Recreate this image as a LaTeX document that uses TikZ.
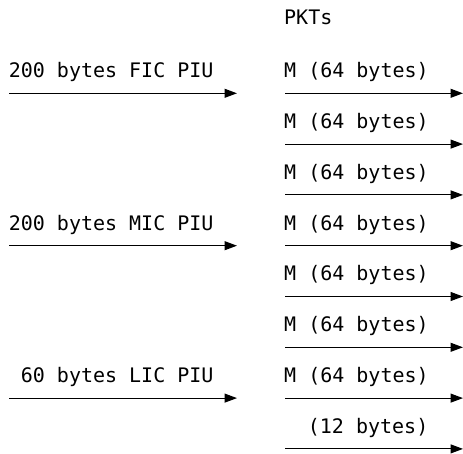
\documentclass[tikz,border=0pt]{standalone}
\usepackage{fontspec}
\setmonofont{DejaVu Sans Mono}
\usetikzlibrary{arrows.meta}
\begin{document}
\begin{tikzpicture}[x=1pt,y=1pt,
  lbl/.style={font=\ttfamily\fontsize{20}{24}\selectfont, inner sep=0pt},
  flow/.style={line width=1.1pt, -{Triangle[length=12.5pt,width=9pt]}}]
\useasboundingbox (0,0) rectangle (463,453);
% header over the packet column
\node[lbl, anchor=base west] (pkts) at (284,428) {PKTs};
% incoming PIUs (left column)
\foreach \r/\txt in {0/200 bytes FIC PIU, 3/200 bytes MIC PIU, 6/60 bytes LIC PIU} {
  \pgfmathsetmacro{\ya}{453-93.3-\r*50.8}
  \node[lbl, anchor=base east] (piu\r) at (213.7,\ya+15.5) {\txt};
  \coordinate (pa\r) at (9,\ya);
  \coordinate (pb\r) at (237,\ya);
  \draw[flow] (pa\r) -- (pb\r);
}
% outgoing packets (right column)
\foreach \r in {0,...,7} {
  \pgfmathsetmacro{\ya}{453-93.3-\r*50.8}
  \coordinate (ka\r) at (285,\ya);
  \coordinate (kb\r) at (463,\ya);
  \draw[flow] (ka\r) -- (kb\r);
}
\foreach \r in {0,...,6} {
  \pgfmathsetmacro{\ya}{453-93.3-\r*50.8}
  \node[lbl, anchor=base west] (pkt\r) at (284,\ya+15.5) {M (64 bytes)};
}
\node[lbl, anchor=base east] (pkt7) at (428.5,453-93.3-7*50.8+15.5) {(12 bytes)};
\end{tikzpicture}
\end{document}
